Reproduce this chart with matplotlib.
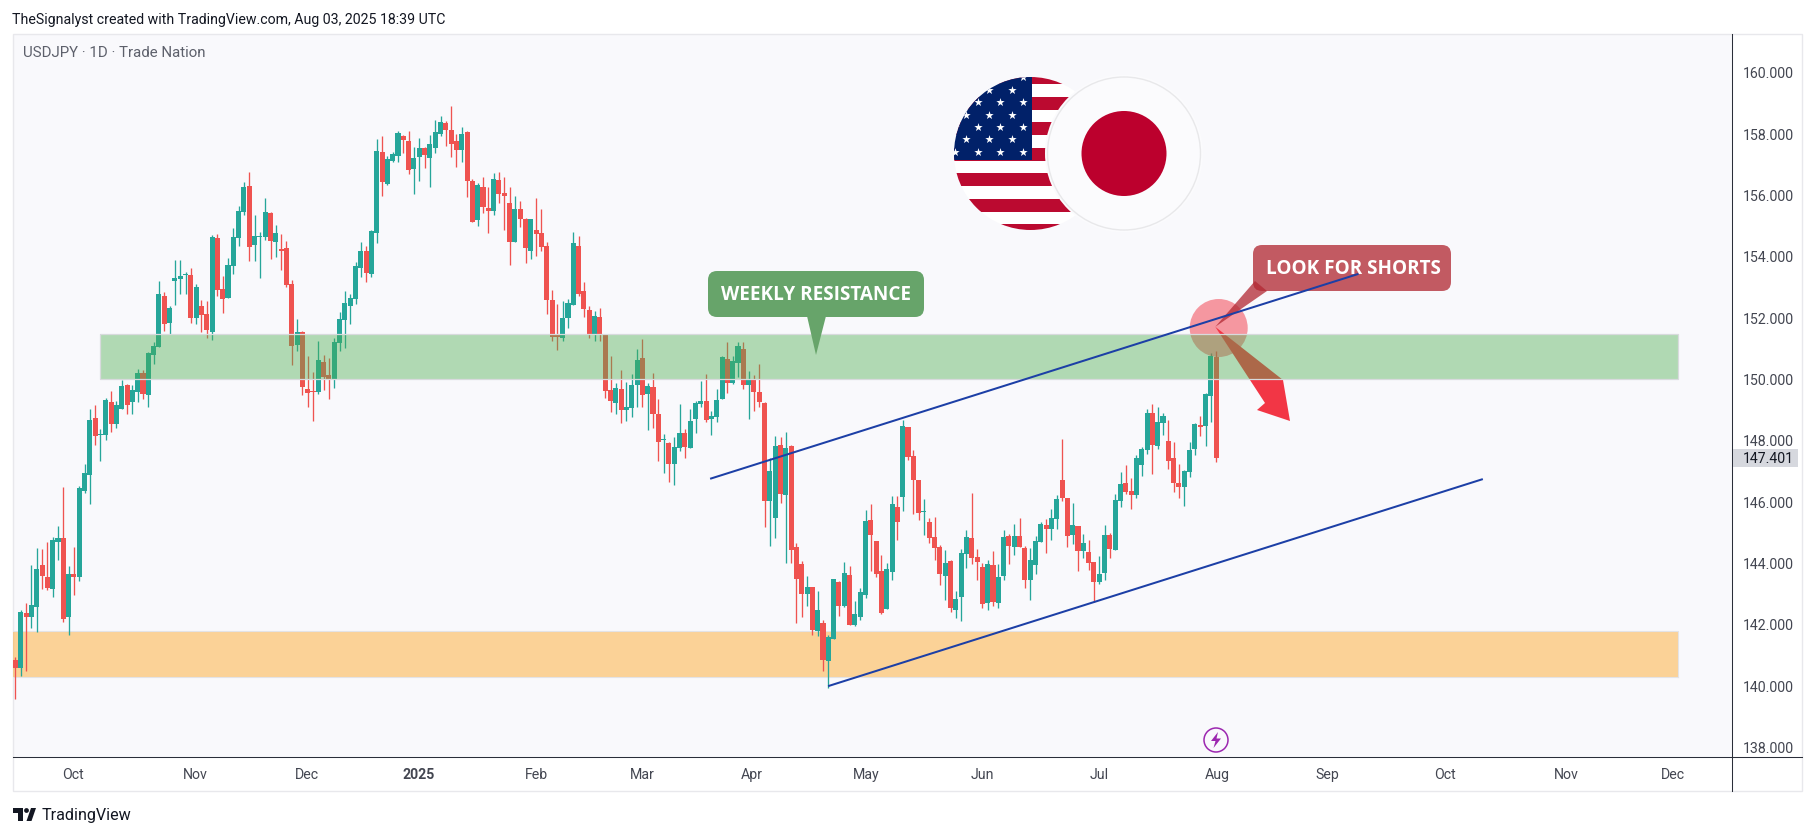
import numpy as np
from matplotlib import pyplot as plt
from matplotlib.patches import Circle, FancyBboxPatch, Polygon, Rectangle
from matplotlib.transforms import Affine2D

plt.rcParams['font.family'] = ['Roboto', 'DejaVu Sans']

opens = [140.83, 140.56, 142.35, 142.22, 142.55, 143.92, 143.53, 143.14, 144.67, 144.80,
         142.22, 143.62, 143.53, 146.33, 146.85, 148.71, 148.16, 148.16, 149.23, 148.52,
         149.01, 149.79, 149.23, 149.56, 150.18, 149.46, 150.77, 151.03, 152.69, 151.81,
         153.18, 153.24, 153.37, 153.37, 151.97, 152.36, 152.10, 151.52, 154.58, 152.92,
         152.62, 153.67, 154.58, 155.43, 156.28, 154.35, 154.61, 154.61, 155.39, 154.45,
         154.22, 154.25, 153.08, 151.09, 151.52, 149.66, 149.59, 149.56, 150.54, 150.11,
         149.95, 151.16, 151.91, 152.36, 152.59, 153.60, 154.16, 153.41, 154.74, 157.38,
         156.34, 157.10, 157.25, 157.91, 157.75, 156.83, 157.23, 157.52, 157.19, 157.52,
         157.98, 158.33, 158.11, 157.75, 157.45, 158.04, 156.44, 155.17, 156.25, 155.56,
         155.47, 156.48, 156.05, 155.73, 154.46, 155.53, 155.20, 154.16, 154.85, 154.75,
         154.33, 152.57, 151.46, 151.33, 151.98, 152.40, 154.33, 152.86, 152.24, 151.42,
         152.01, 151.42, 149.63, 149.21, 149.66, 148.98, 149.04, 149.79, 150.68, 149.50,
         149.73, 148.85, 147.99, 147.90, 147.21, 147.73, 148.22, 147.73, 148.68, 149.17,
         149.27, 148.68, 148.75, 149.33, 150.64, 149.85, 150.51, 150.95, 149.79, 149.95,
         149.56, 149.20, 146.01, 145.45, 147.83, 146.20, 147.80, 144.51, 143.96, 142.98,
         143.21, 141.77, 142.03, 140.79, 141.51, 143.37, 142.59, 143.60, 141.97, 142.23,
         142.95, 145.39, 144.71, 143.73, 142.49, 143.70, 145.82, 146.14, 148.42, 147.47,
         146.69, 145.65, 145.33, 144.84, 144.51, 143.57, 144.05, 142.46, 142.88, 144.28,
         144.80, 144.18, 143.86, 142.68, 143.92, 142.68, 143.56, 144.87, 144.51, 144.87,
         144.48, 143.43, 143.92, 144.67, 145.23, 145.10, 145.42, 146.69, 146.11, 144.90,
         145.19, 144.38, 144.35, 144.02, 143.37, 143.66, 144.90, 144.41, 146.01, 146.60,
         146.34, 146.21, 147.18, 147.67, 148.88, 147.80, 148.55, 147.97, 147.41, 146.60,
         146.47, 146.96, 147.71, 148.49, 148.46, 149.43, 150.71]

closes = [140.56, 142.39, 142.22, 142.61, 143.79, 143.56, 143.17, 144.73, 144.80, 142.16,
          143.62, 143.53, 146.43, 146.92, 148.65, 148.13, 148.19, 149.30, 148.52, 149.14,
          149.76, 149.14, 149.63, 150.18, 149.49, 150.83, 151.06, 152.75, 151.78, 152.30,
          153.28, 153.34, 153.41, 151.97, 152.98, 152.07, 151.58, 154.61, 152.88, 152.59,
          153.70, 154.61, 155.46, 156.24, 154.29, 154.65, 154.65, 155.43, 154.48, 154.74,
          154.16, 153.05, 151.06, 151.52, 149.72, 149.53, 149.56, 150.60, 150.05, 149.98,
          151.19, 151.94, 152.46, 152.62, 153.67, 154.16, 153.44, 154.81, 157.42, 156.41,
          157.16, 157.32, 158.01, 157.78, 156.80, 157.19, 157.52, 157.29, 157.65, 158.04,
          158.37, 158.11, 157.65, 157.45, 157.98, 156.44, 155.11, 156.31, 155.60, 155.47,
          156.51, 156.02, 155.96, 154.46, 155.53, 155.20, 154.26, 155.20, 154.72, 154.29,
          152.57, 151.36, 151.36, 151.98, 152.47, 154.42, 152.76, 152.27, 151.46, 152.04,
          151.42, 149.60, 149.27, 149.70, 148.98, 149.08, 149.79, 150.61, 149.47, 149.76,
          148.85, 147.93, 148.03, 147.21, 147.77, 148.22, 147.77, 148.62, 149.20, 149.27,
          148.65, 148.78, 149.30, 150.70, 149.85, 150.57, 151.05, 149.79, 149.95, 149.56,
          149.23, 146.01, 146.98, 147.80, 146.24, 147.73, 144.41, 143.47, 142.98, 143.21,
          141.81, 142.46, 140.83, 141.58, 143.47, 142.59, 143.66, 141.97, 142.33, 143.04,
          145.36, 144.90, 143.63, 142.36, 143.79, 145.91, 145.33, 148.45, 147.44, 146.69,
          145.62, 145.69, 144.81, 144.48, 143.63, 143.99, 142.52, 142.82, 144.32, 144.84,
          144.15, 144.02, 142.65, 143.95, 142.72, 143.53, 144.84, 144.54, 144.87, 144.51,
          143.43, 144.09, 144.71, 145.26, 145.10, 145.45, 146.07, 146.11, 144.87, 145.23,
          144.38, 144.64, 143.99, 143.37, 143.63, 144.90, 144.44, 146.04, 146.56, 146.30,
          146.21, 147.41, 147.71, 148.88, 147.84, 148.59, 148.78, 147.31, 146.60, 146.47,
          146.99, 147.67, 148.52, 148.42, 149.50, 150.74, 147.40]

highs = [140.92, 142.45, 142.68, 143.92, 144.47, 144.44, 144.67, 144.83, 145.19, 146.46,
         143.89, 144.51, 146.49, 147.21, 149.00, 149.14, 148.35, 149.36, 149.59, 149.27,
         149.95, 149.82, 149.79, 150.31, 150.28, 150.86, 151.19, 153.18, 152.82, 152.36,
         153.86, 153.86, 153.47, 153.60, 153.08, 152.56, 152.53, 154.68, 154.71, 153.34,
         153.93, 154.91, 155.62, 156.41, 156.73, 155.33, 154.78, 155.88, 155.43, 155.00,
         154.71, 154.48, 153.21, 151.94, 151.55, 150.73, 150.21, 151.22, 150.77, 150.67,
         151.32, 152.17, 152.85, 152.75, 153.80, 154.45, 154.32, 154.84, 157.81, 157.90,
         157.25, 157.38, 158.07, 157.94, 158.07, 157.55, 157.85, 157.55, 157.94, 158.43,
         158.56, 158.40, 158.89, 157.98, 158.20, 158.07, 156.51, 156.38, 156.57, 156.25,
         156.70, 156.74, 156.57, 156.25, 155.96, 155.79, 155.24, 155.20, 155.89, 155.53,
         154.46, 152.89, 152.43, 152.53, 152.60, 154.78, 154.65, 153.15, 152.37, 152.21,
         152.30, 151.42, 150.74, 149.86, 150.28, 149.89, 150.15, 150.97, 151.29, 149.86,
         150.19, 149.33, 148.19, 147.93, 148.09, 149.17, 148.35, 149.01, 149.27, 149.92,
         150.15, 148.94, 149.66, 150.73, 151.20, 150.73, 151.20, 151.20, 150.25, 150.11,
         150.47, 149.23, 147.41, 148.13, 148.09, 148.26, 147.83, 144.64, 144.05, 143.57,
         143.21, 143.08, 142.13, 141.64, 143.47, 143.40, 144.02, 143.89, 142.75, 143.17,
         145.72, 145.91, 144.71, 144.25, 144.00, 146.17, 146.17, 148.65, 148.42, 147.67,
         146.69, 146.08, 145.45, 145.49, 144.58, 144.41, 144.09, 143.08, 144.45, 145.07,
         146.27, 144.45, 143.99, 144.09, 144.38, 143.95, 145.06, 144.93, 145.26, 145.45,
         144.54, 144.48, 144.87, 145.32, 145.42, 145.75, 146.20, 148.03, 146.11, 145.94,
         145.19, 144.93, 144.74, 144.02, 144.22, 145.23, 144.97, 146.24, 146.96, 147.18,
         146.76, 147.51, 147.77, 149.01, 149.17, 149.08, 148.88, 148.65, 147.93, 147.22,
         147.02, 147.93, 148.55, 148.78, 149.53, 150.84, 150.90]

lows = [139.55, 140.30, 140.45, 141.87, 141.72, 143.14, 143.10, 142.88, 144.08, 142.07,
        141.64, 142.94, 143.40, 146.27, 145.91, 147.83, 147.31, 147.99, 148.26, 148.39,
        149.01, 148.84, 148.84, 149.23, 149.33, 149.07, 150.47, 151.03, 151.55, 151.45,
        152.40, 152.75, 152.75, 151.81, 151.78, 151.52, 151.32, 151.26, 152.69, 152.14,
        152.62, 153.41, 154.32, 155.33, 153.83, 153.83, 153.28, 154.51, 153.90, 153.96,
        153.54, 152.98, 150.44, 150.90, 149.46, 149.07, 148.61, 149.49, 149.62, 149.33,
        149.69, 150.90, 150.99, 151.78, 152.43, 153.31, 153.15, 153.31, 154.42, 155.95,
        156.31, 157.06, 157.06, 157.36, 156.67, 156.02, 156.44, 156.87, 156.25, 157.36,
        157.91, 157.58, 157.23, 156.90, 157.06, 155.92, 155.11, 154.98, 155.40, 154.75,
        155.34, 155.73, 154.85, 153.71, 154.46, 154.94, 153.77, 153.90, 154.00, 154.16,
        152.11, 151.23, 150.94, 151.23, 151.65, 152.40, 152.70, 152.01, 151.33, 151.23,
        151.23, 149.37, 148.91, 148.85, 148.56, 148.62, 148.75, 149.08, 149.08, 148.33,
        148.39, 147.31, 146.92, 146.63, 146.53, 147.64, 147.41, 147.73, 148.22, 149.07,
        148.58, 148.16, 148.58, 149.33, 149.53, 149.82, 150.05, 149.66, 148.68, 148.94,
        149.07, 145.16, 144.54, 144.80, 145.94, 143.99, 143.99, 142.03, 142.23, 142.59,
        141.64, 141.61, 140.47, 139.91, 141.51, 142.26, 142.56, 141.97, 141.94, 142.13,
        142.85, 143.73, 143.53, 142.33, 142.49, 143.44, 144.74, 145.68, 147.35, 145.58,
        145.39, 144.90, 144.64, 144.09, 143.27, 142.78, 142.39, 142.20, 142.10, 143.83,
        143.96, 143.43, 142.52, 142.46, 142.59, 142.52, 143.43, 143.95, 144.25, 144.51,
        143.17, 142.78, 143.63, 144.67, 144.31, 144.74, 145.10, 146.01, 144.51, 144.61,
        143.73, 144.15, 143.76, 142.72, 143.30, 143.43, 144.15, 144.41, 145.81, 146.24,
        145.75, 146.11, 146.83, 147.54, 146.89, 147.71, 148.16, 147.05, 146.30, 146.11,
        145.85, 146.79, 147.51, 148.13, 147.80, 148.59, 147.28]

month_labels = ["Oct", "Nov", "Dec", "2025", "Feb", "Mar", "Apr", "May", "Jun", "Jul", "Aug", "Sep", "Oct", "Nov", "Dec"]
month_bars = [10.9, 33.9, 54.9, 75.8, 98, 118, 138.6, 160.1, 182, 204, 226.2, 247, 269, 292, 312]
price_ticks = [138, 140, 142, 144, 146, 148, 150, 152, 154, 156, 158, 160]

green_zone = (149.97, 151.44)
orange_zone = (140.26, 141.77)
upper_trend = ([130.75, 252.8], [146.73, 153.41])
lower_trend = ([152.96, 276.2], [139.97, 146.72])

UP = "#26a69a"
DOWN = "#ef5350"
BG = "#f9f9fc"
W, H = 1815, 837

# figure pixels, y going down, for the drawn objects on top of the chart
px = Affine2D().scale(1, -1).translate(0, H)


def pane_axes(fig):
    ax = fig.add_axes([13 / W, 1 - 758 / H, (1732 - 13) / W, (758 - 35) / H], facecolor=BG)
    ax.set_xlim(-0.47, 323.1)
    ax.set_ylim(137.66, 161.23)
    return ax


def plot_candles(ax):
    x = np.arange(len(closes))
    o, c, h, l = map(np.array, (opens, closes, highs, lows))
    colours = np.where(c >= o, UP, DOWN)
    ax.vlines(x, l, h, colors=colours, linewidth=0.95, zorder=3)
    ax.bar(x, np.abs(c - o), bottom=np.minimum(o, c), width=0.95, color=colours, linewidth=0, zorder=3)


def plot_zones(ax):
    ax.add_patch(Rectangle((-1, orange_zone[0]), 314, orange_zone[1] - orange_zone[0], facecolor="#ff9800",
                           alpha=0.4, edgecolor="none", zorder=1))
    ax.plot([-1, 313, 313], [orange_zone[1], orange_zone[1], orange_zone[0]], color="#e3e3e6", lw=0.8, zorder=1.1)
    ax.plot([-1, 313], [orange_zone[0], orange_zone[0]], color="#e3e3e6", lw=0.8, zorder=1.1)
    ax.add_patch(Rectangle((15.9, green_zone[0]), 297.1, green_zone[1] - green_zone[0], facecolor="#4caf50",
                           alpha=0.42, edgecolor="none", zorder=6))
    ax.add_patch(Rectangle((15.9, green_zone[0]), 297.1, green_zone[1] - green_zone[0], facecolor="none",
                           edgecolor="#d8dadd", lw=0.9, zorder=6.1))


def plot_callouts(ax):
    # circle and arrow sit under the green zone, the line and the labels over it
    ax.add_patch(Circle((1218.7, 329), 29, transform=px, facecolor="#f23645", alpha=0.5, edgecolor="none", zorder=4))
    arrow = [(1215.3, 327.8), (1283, 381), (1290, 422), (1257, 411), (1265, 404)]
    ax.add_patch(Polygon(arrow, closed=True, transform=px, facecolor="#f23645", edgecolor="none", zorder=5))

    ax.add_patch(FancyBboxPatch((716, 280), 200, 30, boxstyle="round,pad=8,rounding_size=9", transform=px,
                                facecolor="#67a46a", edgecolor="none", zorder=8))
    ax.add_patch(Polygon([(807, 317), (826, 317), (816, 356)], transform=px, facecolor="#67a46a", edgecolor="none", zorder=8))
    ax.text(816, 295, "WEEKLY RESISTANCE", transform=px, color="white", fontsize=13.6, fontweight="bold",
            ha="center", va="center", zorder=9, family=["Open Sans", "DejaVu Sans"])

    ax.add_patch(FancyBboxPatch((1261, 254), 182, 30, boxstyle="round,pad=8,rounding_size=9", transform=px,
                                facecolor="#c25a62", edgecolor="none", zorder=8))
    ax.add_patch(Polygon([(1215.3, 327.8), (1255, 282), (1267, 292)], transform=px, facecolor="#b22833", alpha=0.75,
                         edgecolor="none", zorder=8))
    ax.text(1353, 269, "LOOK FOR SHORTS", transform=px, color="white", fontsize=13.6, fontweight="bold",
            ha="center", va="center", zorder=9, family=["Open Sans", "DejaVu Sans"])

    ax.plot(*upper_trend, color="#1c3fa6", lw=1.45, zorder=8.5, solid_capstyle="butt")
    ax.plot(*lower_trend, color="#1c3fa6", lw=1.45, zorder=8.5, solid_capstyle="butt")


def plot_flags(ax):
    cx, cy, r = 1030.5, 154.5, 76.5
    clip = Circle((cx, cy), r, transform=px)
    ax.add_patch(Circle((cx, cy), r, transform=px, facecolor="white", edgecolor="none", zorder=10))
    for i in range(7):
        stripe = Rectangle((cx - r, 72.4 + i * 25.5), 2 * r, 12.75, transform=px, facecolor="#bb0a30", edgecolor="none", zorder=10.1)
        ax.add_patch(stripe)
        stripe.set_clip_path(clip)
    canton = Rectangle((cx - r, 70), 1032 - cx + r, 90.7, transform=px, facecolor="#012169", edgecolor="none", zorder=10.2)
    ax.add_patch(canton)
    canton.set_clip_path(clip)
    star_x, star_y = [], []
    for row in range(7):
        columns = [1023, 1000.3, 977.7, 955] if row % 2 == 0 else [1011.7, 989, 966.3]
        star_x += columns
        star_y += [78.3 + row * 12.4] * len(columns)
    stars = ax.scatter(star_x, star_y, s=40, marker="*", color="white", linewidths=0, transform=px, zorder=10.3)
    stars.set_clip_path(clip)

    ax.add_patch(Circle((1124, 154.5), 79, transform=px, facecolor="#fbfbfd", edgecolor="none", zorder=11))
    ax.add_patch(Circle((1124, 154.5), 76.5, transform=px, facecolor="#fbfbfd", edgecolor="#e8e8ea", lw=1.0, zorder=11.1))
    ax.add_patch(Circle((1124, 154.5), 42.5, transform=px, facecolor="#bc002d", edgecolor="none", zorder=11.2))


def plot_frame(fig, ax):
    ax.add_artist(Rectangle((13, 35), 1789, 757, transform=px, facecolor="none", edgecolor="#e8e8ec", lw=1, clip_on=False, zorder=0))
    for side in ("top", "left"):
        ax.spines[side].set_visible(False)
    ax.spines["right"].set_color("#2a2e39")
    ax.spines["bottom"].set_color("#2a2e39")
    ax.spines["right"].set_linewidth(0.75)
    ax.spines["bottom"].set_linewidth(0.75)
    ax.add_artist(plt.Line2D([1732, 1732], [758, 792], transform=px, color="#2a2e39", lw=0.75, clip_on=False))
    ax.add_artist(plt.Line2D([1732, 1802], [758, 758], transform=px, color="#2a2e39", lw=0.75, clip_on=False))

    ax.yaxis.tick_right()
    ax.set_yticks(price_ticks, [f"{p:.3f}" for p in price_ticks])
    ax.tick_params(axis="y", length=0, pad=7.5, labelsize=10.2, labelcolor="#434651")
    ax.set_xticks(month_bars, month_labels)
    ax.tick_params(axis="x", length=0, pad=7.5, labelsize=10.2, labelcolor="#434651")
    ax.get_xticklabels()[3].set_fontweight("bold")

    # last price tag on the price axis
    ax.add_artist(Rectangle((1733, 450), 65, 18, transform=px, facecolor="#d6d8de", edgecolor="none", clip_on=False, zorder=12))
    ax.annotate(f"{closes[-1] + 0.001:.3f}", xy=(1, closes[-1]), xycoords=("axes fraction", "data"), xytext=(7.5, 0),
                textcoords="offset points", va="center", ha="left", fontsize=10.2, color="#131722", annotation_clip=False, zorder=13)

    fig.text(12 / W, 1 - 20 / H, "TheSignalyst created with TradingView.com, Aug 03, 2025 18:39 UTC", fontsize=10.15,
             color="#131722", va="center")
    ax.text(23, 53, "USDJPY · 1D · Trade Nation", transform=px, fontsize=10.8, color="#5d606b", va="center", zorder=12)

    # dividends marker above the time axis
    ax.add_patch(Circle((1216, 741), 12, transform=px, facecolor=BG, edgecolor="#9c27b0", lw=1.1, zorder=12))
    bolt = [(1218, 733), (1211, 742), (1215.5, 742), (1213.5, 749), (1221, 739.5), (1216.5, 739.5)]
    ax.add_patch(Polygon(bolt, transform=px, facecolor="#9c27b0", edgecolor="none", zorder=12.1))

    # TradingView logo
    logo = [[(13, 809), (23, 809), (23, 822), (18, 822), (18, 814), (13, 814)],
            [(26.5, 822), (31, 809), (36, 809), (31.5, 822)]]
    for part in logo:
        ax.add_patch(Polygon(part, transform=px, facecolor="#131722", edgecolor="none", clip_on=False))
    ax.add_patch(Circle((26.5, 811.5), 2.4, transform=px, facecolor="#131722", edgecolor="none", clip_on=False))
    fig.text(42 / W, 1 - 816 / H, "TradingView", fontsize=11.6, color="#131722", va="center")


def main():
    fig = plt.figure(figsize=(W / 100, H / 100), dpi=100, facecolor="white")
    ax = pane_axes(fig)
    plot_zones(ax)
    plot_candles(ax)
    plot_callouts(ax)
    plot_flags(ax)
    plot_frame(fig, ax)
    fig.savefig("out.png", dpi=100)


if __name__ == "__main__":
    main()
